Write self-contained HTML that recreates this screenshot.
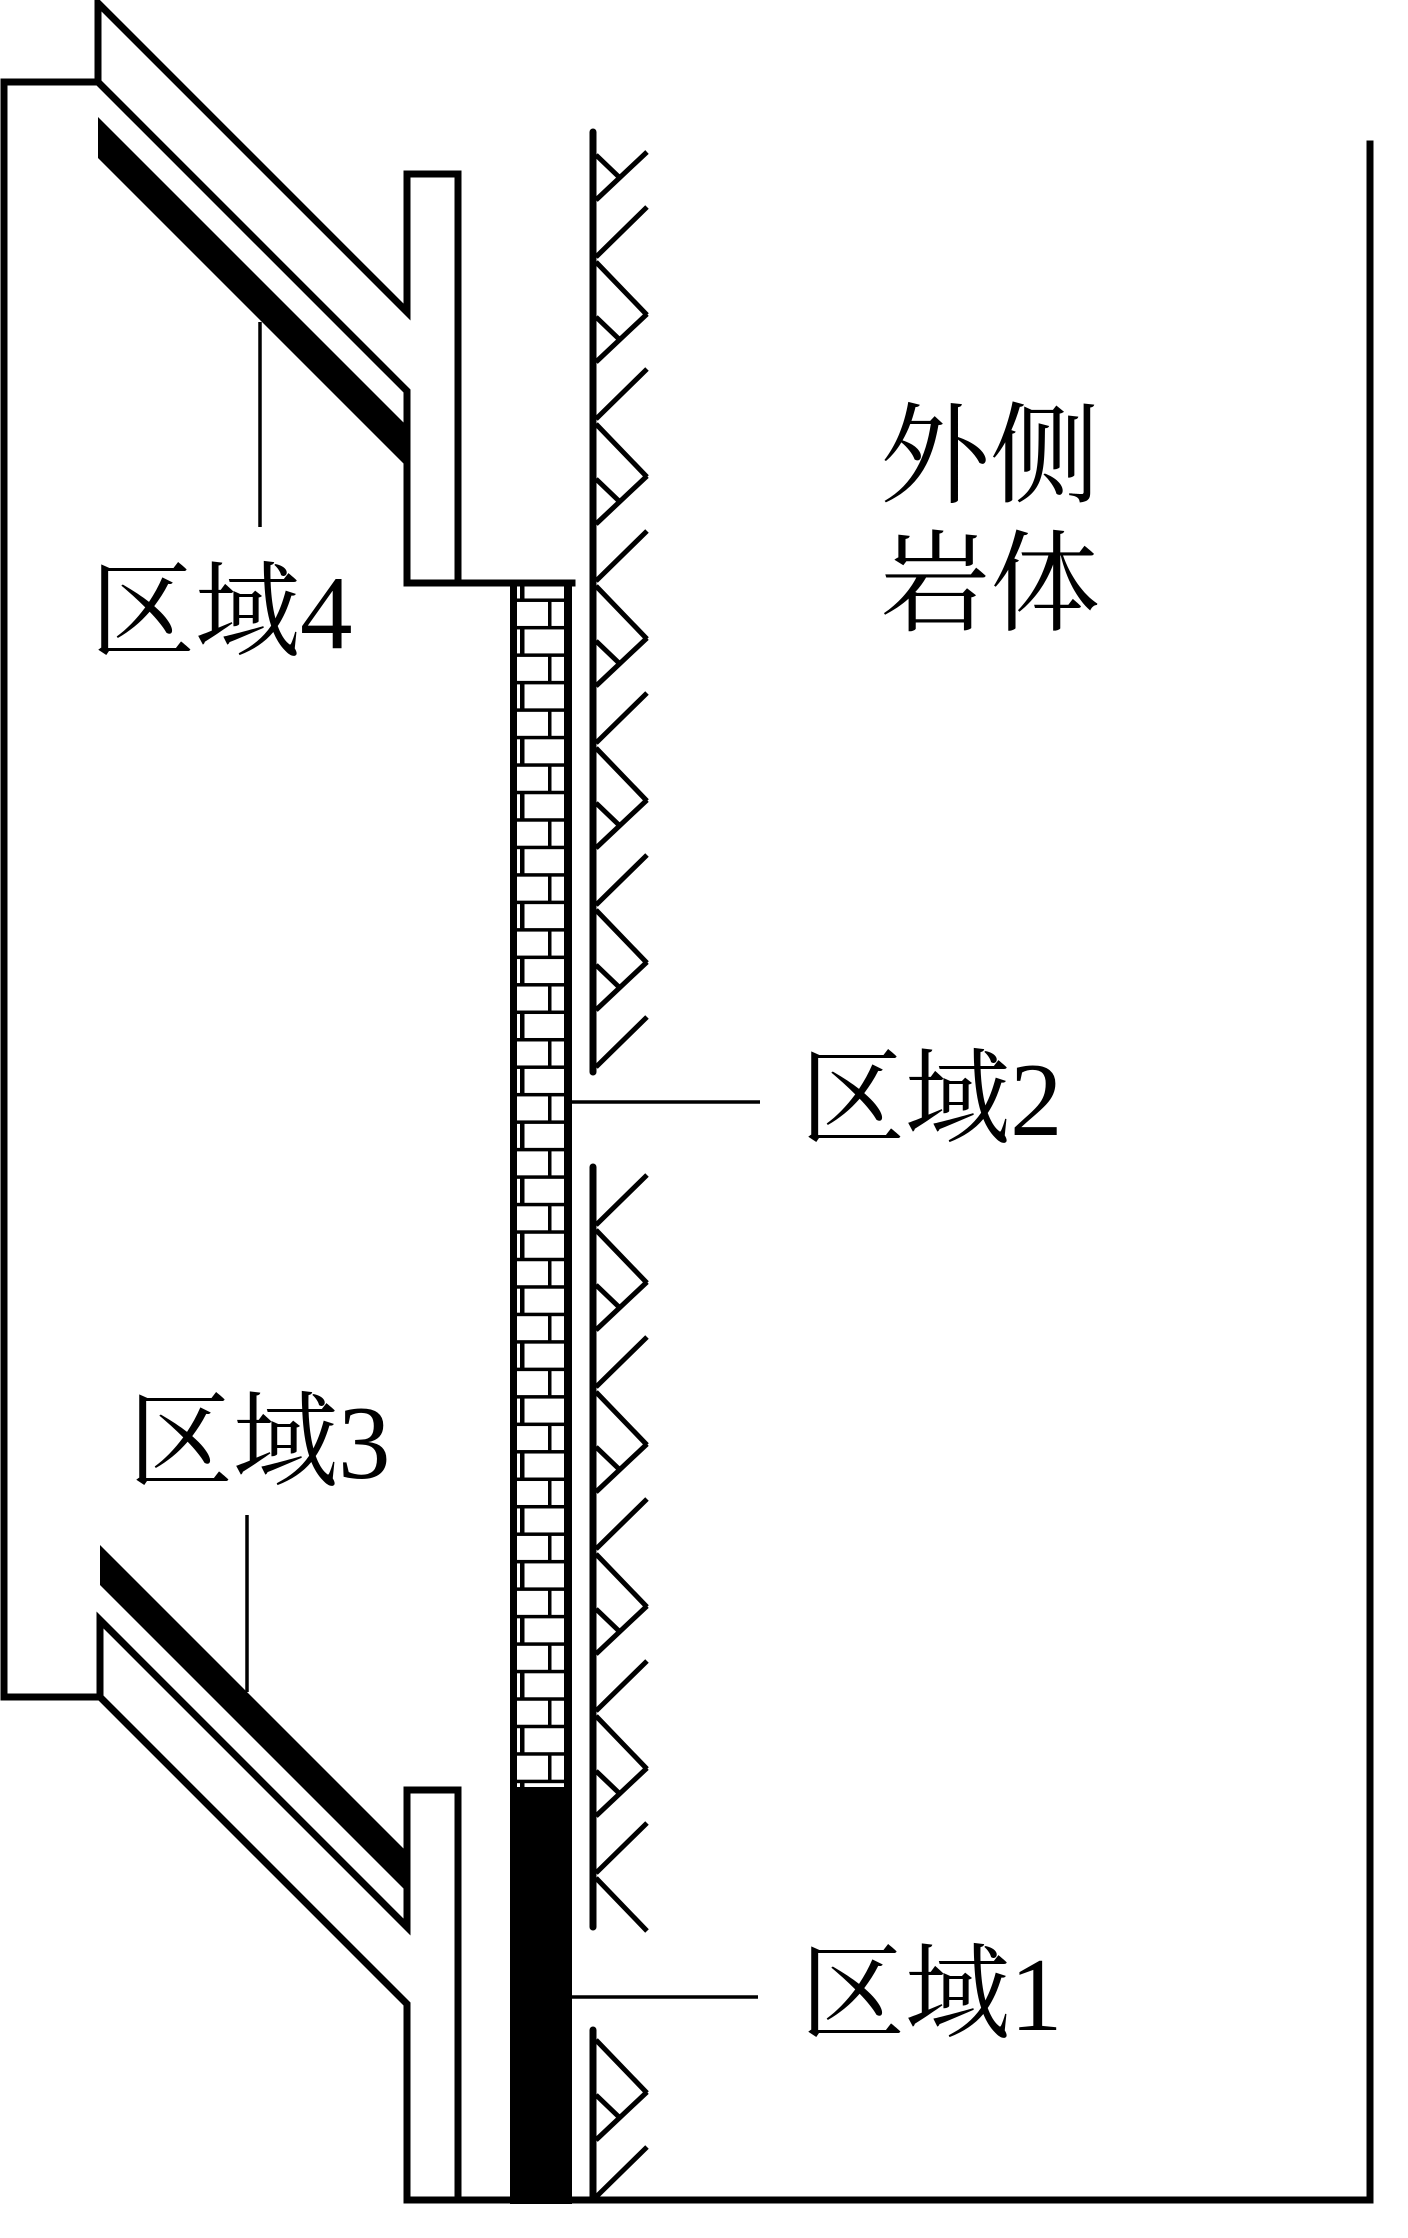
<!DOCTYPE html>
<html><head><meta charset="utf-8">
<style>
html,body{margin:0;padding:0;background:#fff;}
svg{display:block;}
text{font-family:"Liberation Serif","Noto Serif CJK SC",serif;fill:#000;}
</style></head>
<body>
<svg width="1408" height="2238" viewBox="0 0 1408 2238" xmlns="http://www.w3.org/2000/svg">
<defs>
<pattern id="brick" patternUnits="userSpaceOnUse" x="0" y="571" width="1408" height="54.94">
<rect x="0" y="0" width="1408" height="3.5" fill="#000"/>
<rect x="520" y="0" width="4.5" height="27.47" fill="#000"/>
<rect x="0" y="27.47" width="1408" height="3.5" fill="#000"/>
<rect x="548" y="27.47" width="3.5" height="27.47" fill="#000"/>
</pattern>
</defs>
<g fill="none" stroke="#000" stroke-width="7" stroke-linecap="square" stroke-linejoin="miter">
<!-- left box -->
<polyline points="98,82 4,82 4,1697 100,1697"/>
<!-- upper pipe -->
<polyline points="98,82 98,3 407,312 407,174 458,174 458,583"/>
<polyline points="98,82 407,391 407,583 572,583"/>
<!-- lower pipe -->
<polyline points="100,1697 100,1620 407,1927 407,1790 458,1790 458,2200"/>
<polyline points="100,1697 407,2004 407,2200 1370,2200 1370,144"/>
</g>
<!-- black strips -->
<polygon points="98,117 407,426 407,467 98,158" fill="#000"/>
<polygon points="100,1545 407,1852 407,1892 100,1585" fill="#000"/>
<!-- brick column -->
<rect x="513" y="583" width="55" height="1204" fill="url(#brick)"/>
<rect x="510" y="1787" width="62" height="417" fill="#000"/>
<line x1="513.5" y1="580" x2="513.5" y2="2203" stroke="#000" stroke-width="7"/>
<line x1="568" y1="580" x2="568" y2="2203" stroke="#000" stroke-width="8"/>
<!-- hatched wall -->
<g stroke="#000" stroke-width="7" stroke-linecap="round">
<line x1="593" y1="132" x2="593" y2="1072"/>
<line x1="593" y1="1167" x2="593" y2="1927"/>
<line x1="593" y1="2030" x2="593" y2="2200"/>
</g>
<path fill="none" stroke="#000" stroke-width="5" d="
M596 155 L620 178 M596 200 L647 152 M596 257 L647 207 M596 262 L647 315
M596 317 L620 340 M596 362 L647 314 M596 419 L647 369 M596 424 L647 477
M596 479 L620 502 M596 524 L647 476 M596 581 L647 531 M596 586 L647 639
M596 641 L620 664 M596 686 L647 638 M596 743 L647 693 M596 748 L647 801
M596 803 L620 826 M596 848 L647 800 M596 905 L647 855 M596 910 L647 963
M596 965 L620 988 M596 1010 L647 962 M596 1067 L647 1017
M596 1225 L647 1175 M596 1230 L647 1283
M596 1285 L620 1308 M596 1330 L647 1282 M596 1387 L647 1337 M596 1392 L647 1445
M596 1447 L620 1470 M596 1492 L647 1444 M596 1549 L647 1499 M596 1554 L647 1607
M596 1609 L620 1632 M596 1654 L647 1606 M596 1711 L647 1661 M596 1716 L647 1769
M596 1771 L620 1794 M596 1816 L647 1768 M596 1873 L647 1823 M596 1878 L647 1931
M596 2040 L647 2093
M596 2095 L620 2118 M596 2140 L647 2092 M596 2197 L647 2147"/>
<!-- leader lines -->
<g stroke="#000" stroke-width="3.5">
<line x1="260" y1="322" x2="260" y2="527"/>
<line x1="247" y1="1515" x2="247" y2="1692"/>
<line x1="572" y1="1102" x2="760" y2="1102"/>
<line x1="572" y1="1997" x2="758" y2="1997"/>
</g>
<!-- labels -->
<text x="90" y="648" font-size="105">区域4</text>
<text x="128" y="1478" font-size="105">区域3</text>
<text x="800" y="1135" font-size="105">区域2</text>
<text x="800" y="2030" font-size="105">区域1</text>
<text x="880" y="494" font-size="110">外侧</text>
<text x="880" y="622" font-size="110">岩体</text>
</svg>
</body></html>
